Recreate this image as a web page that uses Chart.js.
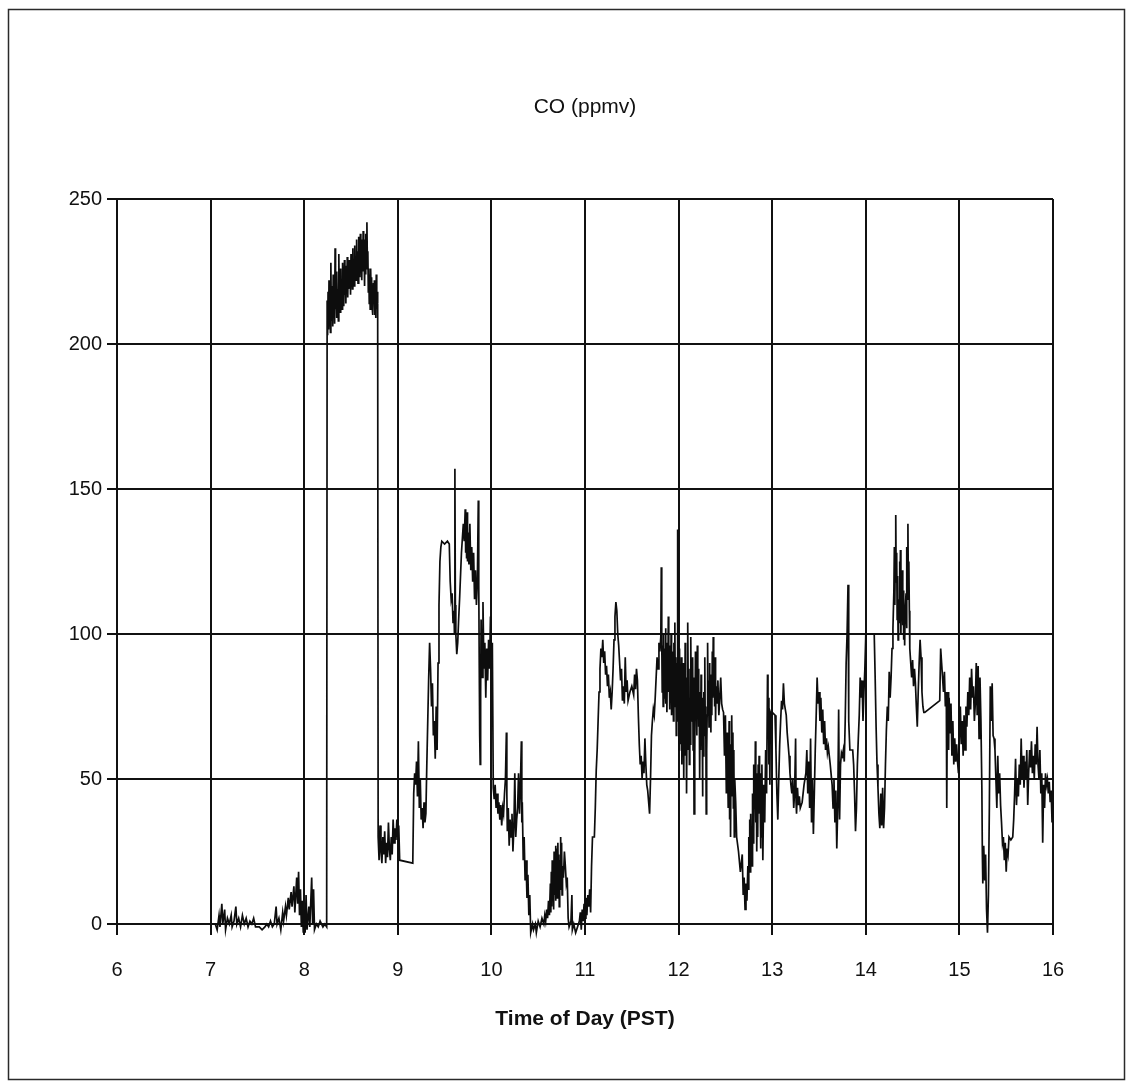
<!DOCTYPE html>
<html><head><meta charset="utf-8">
<script src="https://cdn.jsdelivr.net/npm/chart.js@4"></script>
<style>html,body{margin:0;padding:0;background:#fff}canvas{display:block}</style>
</head><body>
<canvas id="c" width="1131" height="1084"></canvas>
<script>
const chartTitle = 'CO (ppmv)';
const xAxisTitle = 'Time of Day (PST)';
const xTickHours = [6, 7, 8, 9, 10, 11, 12, 13, 14, 15, 16];
const yTickValues = [0, 50, 100, 150, 200, 250];

// [hour of day (PST), CO ppmv]
const coSamples = [
[7.02,0],[7.05,0],[7.07,-2],[7.09,3],[7.1,-1],[7.12,7],[7.13,0],[7.15,5],[7.16,-2],[7.18,2],[7.2,0],[7.22,3],[7.23,-1],[7.25,1],[7.27,6],[7.28,0],[7.3,2],[7.32,-1],[7.34,3],[7.36,0],[7.38,2],[7.4,-1],[7.42,1],[7.44,0],[7.46,2],[7.48,-1],[7.52,-1],[7.55,-2],[7.58,-1],[7.6,0],[7.62,-1],[7.64,1],[7.66,-1],[7.68,0],[7.7,6],[7.71,0],[7.73,2],[7.75,-2],[7.77,4],[7.78,1],[7.8,6],[7.81,3],[7.83,9],[7.84,5],[7.86,11],[7.87,6],[7.89,13],[7.9,4],[7.92,16],[7.93,7],[7.94,18],[7.95,3],[7.96,12],[7.97,-1],[7.98,8],[7.99,-3],[8.0,5],[8.01,-3],[8.02,10],[8.03,-2],[8.05,6],[8.06,-1],[8.08,16],[8.09,0],[8.1,12],[8.11,-2],[8.13,0],[8.15,-1],[8.17,1],[8.2,-1],[8.22,0],[8.24,-1],
[8.245,215],[8.25,203],[8.255,218],[8.26,205],[8.265,222],[8.27,207],[8.275,216],[8.28,204],[8.285,228],[8.29,208],[8.3,220],[8.305,206],[8.31,224],[8.315,210],[8.32,218],[8.325,207],[8.33,233],[8.335,212],[8.34,222],[8.345,209],[8.35,225],[8.355,212],[8.36,219],[8.365,208],[8.37,231],[8.375,214],[8.38,224],[8.385,211],[8.39,226],[8.395,215],[8.4,222],[8.405,212],[8.41,228],[8.415,216],[8.42,224],[8.425,213],[8.43,229],[8.435,217],[8.44,225],[8.445,214],[8.45,227],[8.455,218],[8.46,230],[8.465,216],[8.47,226],[8.475,219],[8.48,229],[8.485,220],[8.49,226],[8.495,217],[8.5,231],[8.505,222],[8.51,228],[8.515,219],[8.52,233],[8.525,221],[8.53,229],[8.535,220],[8.54,234],[8.545,223],[8.55,230],[8.555,222],[8.56,236],[8.565,224],[8.57,232],[8.575,221],[8.58,237],[8.585,225],[8.59,233],[8.595,223],[8.6,238],[8.605,226],[8.61,234],[8.615,222],[8.62,236],[8.625,225],[8.63,239],[8.635,227],[8.64,233],[8.645,220],[8.65,236],[8.655,224],[8.66,238],[8.665,226],[8.67,242],[8.675,228],[8.68,232],[8.685,218],[8.69,226],[8.695,214],[8.7,224],[8.705,212],[8.71,226],[8.715,217],[8.72,223],[8.725,213],[8.73,220],[8.735,210],[8.74,221],[8.745,215],[8.75,222],[8.755,210],[8.76,220],[8.765,209],[8.77,224],[8.775,212],[8.78,218],[8.785,214],
[8.79,30],[8.8,22],[8.81,34],[8.82,25],[8.83,21],[8.84,30],[8.85,24],[8.86,32],[8.87,21],[8.88,28],[8.89,23],[8.9,35],[8.91,26],[8.92,22],[8.93,30],[8.94,24],[8.95,36],[8.96,28],[8.97,33],[8.98,29],[8.99,36],[9.0,30],[9.01,34],[9.02,22],[9.16,21],
[9.17,45],[9.18,52],[9.19,48],[9.2,56],[9.21,44],[9.22,63],[9.23,40],[9.24,50],[9.25,36],[9.26,40],[9.27,33],[9.28,42],[9.29,35],[9.3,38],[9.31,55],[9.32,70],[9.33,85],[9.34,97],[9.35,88],[9.36,75],[9.37,83],[9.38,65],[9.39,70],[9.4,57],[9.41,75],[9.42,60],[9.43,90],[9.44,110],[9.45,125],[9.46,130],[9.47,132],[9.5,131],[9.53,132],[9.55,131],[9.56,118],[9.57,112],[9.58,114],[9.59,104],[9.6,108],[9.605,100],[9.61,157],[9.615,110],[9.62,100],[9.63,93],[9.64,97],[9.65,105],[9.66,112],[9.67,120],[9.68,128],[9.69,133],[9.7,138],[9.71,132],[9.72,143],[9.725,128],[9.73,140],[9.735,126],[9.74,142],[9.745,125],[9.75,135],[9.76,124],[9.77,138],[9.78,122],[9.79,130],[9.8,118],[9.81,128],[9.82,112],[9.83,122],[9.84,110],[9.85,118],[9.86,146],[9.865,117],[9.87,90],[9.875,65],[9.88,55],[9.885,80],[9.89,105],[9.9,85],[9.91,111],[9.92,88],[9.93,97],[9.94,78],[9.95,95],[9.96,84],[9.97,98],[9.98,88],[9.99,106],[10.0,92],[10.01,97],
[10.02,47],[10.03,43],[10.04,48],[10.05,40],[10.06,45],[10.07,38],[10.08,42],[10.09,36],[10.1,41],[10.11,34],[10.12,40],[10.13,38],[10.14,45],[10.15,50],[10.16,66],[10.165,45],[10.17,32],[10.18,40],[10.19,27],[10.2,36],[10.21,30],[10.22,38],[10.23,25],[10.24,33],[10.25,52],[10.26,30],[10.27,36],[10.28,40],[10.29,52],[10.3,38],[10.31,48],[10.32,63],[10.325,35],[10.33,42],[10.34,22],[10.35,30],[10.36,15],[10.37,22],[10.38,9],[10.39,17],[10.4,3],[10.41,10],[10.42,-3],
[10.44,0],[10.45,-2],[10.47,0],[10.48,-3],[10.5,1],[10.52,-1],[10.54,2],[10.56,0],[10.57,3],[10.58,1],[10.59,5],[10.6,2],[10.61,8],[10.62,3],[10.63,14],[10.635,4],[10.64,18],[10.645,6],[10.65,22],[10.655,8],[10.66,20],[10.665,5],[10.67,25],[10.675,10],[10.68,24],[10.685,8],[10.69,27],[10.695,12],[10.7,26],[10.705,9],[10.71,28],[10.715,14],[10.72,24],[10.725,6],[10.73,22],[10.735,12],[10.74,30],[10.745,16],[10.75,28],[10.755,10],[10.76,20],[10.77,16],[10.78,25],[10.79,20],[10.8,14],[10.81,16],[10.82,2],[10.83,-1],[10.85,1],[10.86,10],[10.865,-2],[10.88,0],[10.9,-3],[10.92,-1],[10.94,1],[10.95,4],[10.96,-2],[10.97,5],[10.98,1],[10.99,7],[11.0,2],[11.01,9],[11.02,3],[11.03,10],[11.04,6],
[11.05,12],[11.06,4],[11.07,20],[11.08,30],[11.1,30],[11.11,40],[11.12,53],[11.13,60],[11.14,70],[11.15,80],[11.16,88],[11.17,95],[11.18,92],[11.19,98],[11.2,90],[11.21,94],[11.22,86],[11.23,89],[11.24,82],[11.25,86],[11.26,78],[11.27,80],[11.28,74],[11.29,80],[11.3,88],[11.31,98],[11.32,106],[11.33,111],[11.34,108],[11.35,100],[11.36,96],[11.37,90],[11.38,84],[11.39,88],[11.4,77],[11.41,82],[11.42,76],[11.43,92],[11.44,80],[11.45,84],[11.46,77],[11.48,80],[11.5,82],[11.52,79],[11.53,86],[11.54,81],[11.55,88],[11.56,84],[11.57,72],[11.58,62],[11.59,55],[11.6,58],[11.61,50],[11.62,56],[11.63,52],[11.64,64],[11.65,55],[11.66,48],[11.67,46],[11.68,42],[11.69,38],[11.7,50],[11.71,65],[11.72,70],[11.73,74],[11.74,72],[11.75,78],[11.76,85],[11.77,92],[11.78,88],[11.79,97],[11.8,94],[11.81,99],[11.815,123],[11.82,98],[11.825,80],[11.83,96],[11.835,75],[11.84,100],[11.845,78],[11.85,95],[11.855,82],[11.86,102],[11.865,76],[11.87,97],[11.875,73],[11.88,92],[11.885,84],[11.89,106],[11.895,80],[11.9,96],[11.905,74],[11.91,90],[11.915,78],[11.92,100],[11.925,72],[11.93,94],[11.935,80],[11.94,88],[11.945,70],[11.95,97],[11.955,76],[11.96,104],[11.965,75],[11.97,92],[11.975,65],[11.98,90],[11.985,70],[11.99,136],[11.995,88],
[12.0,85],[12.005,60],[12.01,95],[12.015,70],[12.02,88],[12.025,62],[12.03,92],[12.035,55],[12.04,80],[12.045,66],[12.05,90],[12.055,50],[12.06,75],[12.065,58],[12.07,97],[12.075,68],[12.08,85],[12.085,45],[12.09,70],[12.095,60],[12.1,104],[12.105,72],[12.11,88],[12.115,55],[12.12,78],[12.125,62],[12.13,99],[12.135,75],[12.14,86],[12.145,70],[12.15,92],[12.155,60],[12.16,85],[12.165,38],[12.17,72],[12.175,58],[12.18,94],[12.185,70],[12.19,80],[12.195,65],[12.2,96],[12.205,75],[12.21,88],[12.215,68],[12.22,80],[12.225,50],[12.23,74],[12.235,60],[12.24,86],[12.245,70],[12.25,78],[12.255,44],[12.26,66],[12.265,58],[12.27,80],[12.275,70],[12.28,92],[12.285,65],[12.29,75],[12.295,38],[12.3,60],[12.305,72],[12.31,97],[12.315,74],[12.32,84],[12.325,68],[12.33,90],[12.335,76],[12.34,82],[12.345,66],[12.35,86],[12.355,72],[12.36,94],[12.365,78],[12.37,99],[12.375,80],[12.38,88],[12.385,75],[12.39,92],[12.395,70],[12.4,82],[12.41,76],[12.42,84],[12.43,72],[12.44,78],[12.45,85],
[12.46,76],[12.47,74],[12.48,73],[12.49,58],[12.5,72],[12.51,45],[12.52,66],[12.53,40],[12.54,70],[12.545,36],[12.55,62],[12.555,30],[12.56,55],[12.565,44],[12.57,72],[12.575,48],[12.58,66],[12.585,40],[12.59,60],[12.595,30],[12.6,50],[12.61,42],[12.62,30],[12.64,25],[12.66,18],[12.68,24],[12.69,10],[12.7,16],[12.71,5],[12.72,14],[12.73,8],[12.74,20],[12.745,12],[12.75,30],[12.755,22],[12.76,36],[12.765,18],[12.77,38],[12.775,25],[12.78,30],[12.785,20],[12.79,45],[12.795,28],[12.8,55],[12.805,32],[12.81,50],[12.815,40],[12.82,63],[12.825,35],[12.83,52],[12.835,25],[12.84,46],[12.845,30],[12.85,55],[12.855,38],[12.86,58],[12.865,44],[12.87,48],[12.875,26],[12.88,52],[12.885,30],[12.89,55],[12.9,22],[12.91,48],[12.92,35],[12.93,60],[12.94,45],[12.95,86],[12.955,70],[12.96,78],[12.965,55],[12.97,72],[12.975,48],[12.98,73],[12.99,72],
[13.0,73],[13.03,72],[13.04,60],[13.05,45],[13.06,36],[13.07,50],[13.08,62],[13.09,70],[13.1,77],[13.11,74],[13.12,83],[13.13,76],[13.14,74],[13.15,72],[13.16,66],[13.17,62],[13.18,58],[13.19,52],[13.2,48],[13.21,45],[13.22,50],[13.23,40],[13.24,46],[13.25,64],[13.255,42],[13.26,38],[13.27,47],[13.28,41],[13.29,44],[13.3,40],[13.32,42],[13.34,48],[13.36,52],[13.37,60],[13.38,45],[13.39,56],[13.4,40],[13.41,64],[13.42,35],[13.43,50],[13.44,31],[13.45,45],[13.46,60],[13.47,72],[13.48,85],[13.49,76],[13.5,80],[13.51,70],[13.52,78],[13.53,66],[13.54,74],[13.55,62],[13.56,70],[13.57,60],[13.58,64],[13.59,59],[13.6,61],[13.62,55],[13.64,48],[13.65,40],[13.66,50],[13.67,35],[13.68,46],[13.69,26],[13.7,40],[13.71,74],[13.715,50],[13.72,36],[13.73,55],[13.74,59],[13.75,58],[13.76,60],[13.77,56],[13.78,70],[13.79,90],[13.8,100],[13.81,117],[13.815,90],[13.82,70],[13.83,60],[13.85,60],[13.86,60],[13.87,55],[13.88,45],[13.89,32],[13.9,40],[13.91,55],[13.92,64],[13.93,72],[13.94,85],[13.95,78],[13.96,84],[13.97,70],[13.98,80],[13.99,88],
[14.0,100],[14.09,100],[14.1,85],[14.11,68],[14.12,55],[14.13,47],[14.14,38],[14.15,33],[14.16,45],[14.17,34],[14.18,47],[14.19,33],[14.2,40],[14.21,55],[14.22,67],[14.23,75],[14.24,70],[14.25,87],[14.26,78],[14.27,85],[14.28,95],[14.29,102],[14.3,115],[14.305,130],[14.31,110],[14.315,127],[14.32,141],[14.325,118],[14.33,128],[14.335,105],[14.34,120],[14.345,98],[14.35,112],[14.355,104],[14.36,125],[14.365,106],[14.37,129],[14.375,100],[14.38,118],[14.385,108],[14.39,122],[14.395,103],[14.4,115],[14.405,98],[14.41,110],[14.415,96],[14.42,108],[14.43,114],[14.435,102],[14.44,130],[14.445,112],[14.45,138],[14.455,115],[14.46,125],[14.465,108],[14.47,95],[14.48,90],[14.49,85],[14.5,91],[14.51,82],[14.52,88],[14.53,83],[14.54,75],[14.55,68],[14.56,80],[14.57,90],[14.58,98],[14.59,92],[14.6,80],[14.61,75],[14.62,73],[14.63,73],[14.79,77],[14.8,95],[14.81,90],[14.82,85],[14.83,80],[14.84,87],[14.85,75],[14.86,80],[14.865,40],[14.87,72],[14.875,65],[14.88,80],[14.885,60],[14.89,78],[14.9,66],[14.91,76],[14.92,58],[14.93,70],[14.94,55],[14.95,64],[14.96,56],[14.97,62],[14.98,56],[14.99,52],
[15.0,65],[15.01,75],[15.02,62],[15.03,70],[15.04,58],[15.05,72],[15.06,60],[15.07,75],[15.08,68],[15.09,80],[15.1,72],[15.11,85],[15.12,74],[15.13,88],[15.14,78],[15.15,82],[15.16,70],[15.17,76],[15.18,90],[15.19,72],[15.2,89],[15.21,64],[15.22,85],[15.23,70],[15.24,47],[15.245,25],[15.25,14],[15.26,27],[15.27,15],[15.28,24],[15.29,5],[15.3,-3],[15.31,10],[15.32,40],[15.33,82],[15.34,70],[15.35,83],[15.36,65],[15.37,64],[15.38,60],[15.39,50],[15.4,40],[15.41,58],[15.42,45],[15.43,52],[15.44,41],[15.45,35],[15.46,28],[15.47,30],[15.48,22],[15.49,28],[15.5,18],[15.51,26],[15.52,24],[15.53,30],[15.55,29],[15.57,30],[15.58,36],[15.59,45],[15.6,57],[15.61,41],[15.62,50],[15.63,44],[15.64,55],[15.65,48],[15.66,64],[15.67,50],[15.68,58],[15.69,47],[15.7,56],[15.71,50],[15.72,60],[15.73,41],[15.74,52],[15.75,60],[15.76,54],[15.77,63],[15.78,52],[15.79,58],[15.8,50],[15.81,62],[15.82,55],[15.83,68],[15.84,55],[15.85,50],[15.86,60],[15.87,45],[15.88,52],[15.89,28],[15.9,48],[15.91,40],[15.92,52],[15.93,48],[15.94,50],[15.95,45],[15.96,49],[15.97,42],[15.98,46],[15.99,35],[16.0,42],[16.01,28],[16.02,38],[16.03,24],[16.04,40],[16.05,30],[16.06,46],[16.07,42]
];

const FONT = "'Liberation Sans', Arial, Helvetica, sans-serif";
const INK = '#111111';

const framePlugin = {
  id: 'frame',
  beforeDraw(chart) {
    const ctx = chart.ctx;
    ctx.save();
    ctx.fillStyle = '#ffffff';
    ctx.fillRect(0, 0, chart.width, chart.height);
    ctx.strokeStyle = '#2a2a2a';
    ctx.lineWidth = 1.5;
    ctx.strokeRect(8.5, 9.5, 1116, 1070);
    ctx.restore();
  }
};

new Chart(document.getElementById('c'), {
  type: 'line',
  data: {
    datasets: [{
      label: chartTitle,
      data: coSamples.map(([x, y]) => ({ x, y })),
      borderColor: '#0d0d0d',
      borderWidth: 1.7,
      pointRadius: 0,
      tension: 0,
      fill: false,
      clip: false
    }]
  },
  options: {
    responsive: false,
    animation: false,
    devicePixelRatio: 1,
    layout: { padding: { left: 0, right: 78, top: 0, bottom: 0 } },
    plugins: {
      legend: { display: false },
      tooltip: { enabled: false },
      title: {
        display: true, text: chartTitle, fullSize: false, color: INK,
        font: { family: FONT, size: 21, weight: 'normal' },
        padding: { top: 95, bottom: 78.8 }
      }
    },
    scales: {
      x: {
        type: 'linear', min: 6, max: 16,
        afterBuildTicks: s => { s.ticks = xTickHours.map(v => ({ value: v })); },
        afterFit: s => { s.height = 160; },
        grid: { color: INK, lineWidth: 2, tickLength: 11, drawTicks: true },
        border: { color: INK, width: 2 },
        ticks: { color: INK, font: { family: FONT, size: 20 }, padding: 23, maxRotation: 0, autoSkip: false },
        title: { display: true, text: xAxisTitle, color: INK, font: { family: FONT, size: 21, weight: 'bold' }, padding: { top: 0, bottom: 52 } }
      },
      y: {
        type: 'linear', min: 0, max: 250,
        afterBuildTicks: s => { s.ticks = yTickValues.map(v => ({ value: v })); },
        afterFit: s => { s.width = 117; },
        grid: { color: INK, lineWidth: 2, tickLength: 10, drawTicks: true },
        border: { color: INK, width: 2 },
        ticks: { color: INK, font: { family: FONT, size: 20 }, padding: 5 }
      }
    }
  },
  plugins: [framePlugin]
});
</script>
</body></html>
